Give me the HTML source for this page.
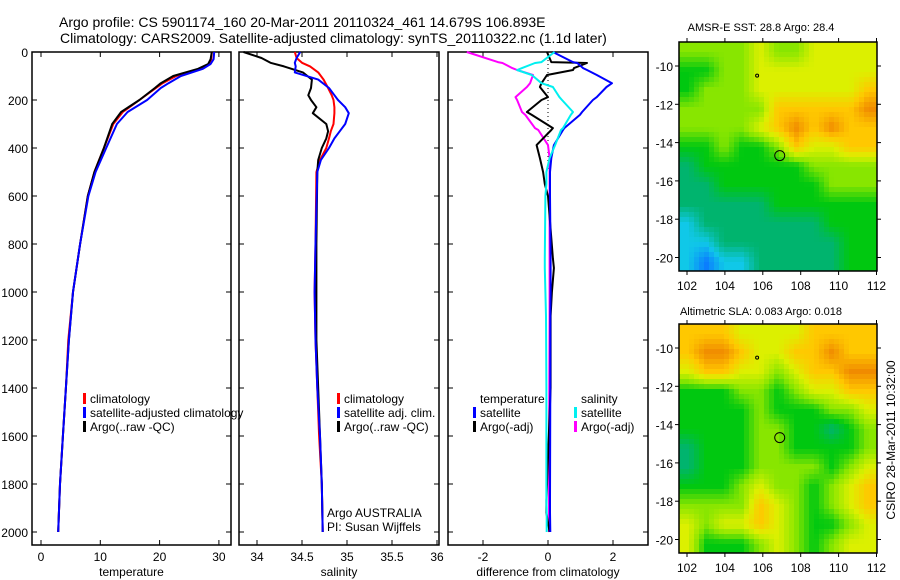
<!DOCTYPE html>
<html><head><meta charset="utf-8"><style>
body{margin:0;background:#fff}
svg{display:block;font-family:"Liberation Sans",sans-serif}
text{fill:#000}
</style></head><body>
<svg id="fig" width="900" height="580" viewBox="0 0 900 580">
<defs>
<clipPath id="c1"><rect x="679" y="42" width="198" height="229"/></clipPath>
<clipPath id="c2"><rect x="679" y="324" width="198" height="229"/></clipPath>
</defs>
<text x="59" y="27" font-size="14">Argo profile: CS 5901174_160 20-Mar-2011 20110324_461 14.679S 106.893E</text>
<text x="60" y="43" font-size="14">Climatology: CARS2009. Satellite-adjusted climatology: synTS_20110322.nc (1.1d later)</text>
<g id="maps"></g>
<g id="panels"></g>
<text x="761" y="31" font-size="11" text-anchor="middle">AMSR-E SST: 28.8 Argo: 28.4</text>
<text x="761" y="315" font-size="11" text-anchor="middle">Altimetric SLA: 0.083 Argo: 0.018</text>
<text transform="translate(895,440) rotate(-90)" font-size="12" text-anchor="middle">CSIRO 28-Mar-2011 10:32:00</text>
</svg>
<script>
const NS='http://www.w3.org/2000/svg';
function mk(tag,attrs,parent){const e=document.createElementNS(NS,tag);for(const k in attrs)e.setAttribute(k,attrs[k]);parent.appendChild(e);return e;}
// ---------- data ----------
const tempDepth=[0,30,50,70,100,130,150,200,250,300,400,500,600,800,1000,1200,1400,1600,1800,2000];
const tempClim=[28.8,28.7,28.4,26.8,22.8,20.5,19.4,16.6,13.8,12.2,10.6,9.0,7.9,6.6,5.4,4.6,4.2,3.7,3.2,2.9];
const tempSat=[29.2,29.1,28.6,27.3,23.6,21.5,20.2,17.9,14.6,12.8,11.0,9.2,8.0,6.6,5.4,4.7,4.2,3.7,3.2,2.9];
const tempArgo=[28.8,28.6,28.2,26.5,22.3,20.2,19.2,16.6,13.5,12.0,10.6,9.0,7.9,6.6,5.4,4.7,4.2,3.7,3.2,2.9];
const salDepth=[0,25,45,60,85,115,150,180,200,230,255,300,330,360,400,450,500,800,1000,1200,1400,1600,1800,2000];
const salClim=[34.42,34.44,34.5,34.59,34.68,34.74,34.79,34.83,34.85,34.86,34.86,34.85,34.82,34.8,34.77,34.7,34.66,34.65,34.64,34.65,34.67,34.69,34.72,34.73];
const salSat=[34.48,34.44,34.42,34.43,34.42,34.68,34.8,34.86,34.9,34.98,35.02,34.98,34.92,34.86,34.8,34.71,34.67,34.65,34.64,34.65,34.67,34.7,34.72,34.73];
const salArgo=[33.85,34.05,34.15,34.3,34.51,34.61,34.6,34.57,34.6,34.66,34.62,34.77,34.79,34.77,34.72,34.68,34.67,34.66,34.66,34.66,34.68,34.7,34.72,34.73];
const diffDepth=[0,42,46,67,75,96,130,146,188,200,250,262,317,325,388,442,500,550,600,860,900,1000,1100,1400,1870,1920,2000];
const dTempSat=[0.15,0.77,0.9,1.08,1.2,1.5,1.97,1.8,1.5,1.38,1.05,0.98,0.5,0.46,0.18,0.1,0.06,0.06,0.06,0.08,0.08,0.08,0.07,0.07,0.06,0.06,0.07];
const dTempArgo=[-0.03,0.1,1.2,0.8,0.77,-0.03,-0.2,-0.25,0.0,-0.2,-0.65,-0.5,0.15,0.1,-0.35,-0.25,-0.15,-0.1,0.0,0.15,0.18,0.12,0.08,0.08,-0.05,-0.05,0.05];
const dSalSat=[0.2,-0.2,-0.4,-0.8,-0.95,-0.5,-0.2,0.15,0.35,0.43,0.77,0.7,0.46,0.4,0.22,0.05,-0.05,-0.05,-0.08,-0.1,-0.1,-0.08,-0.06,-0.05,-0.05,-0.04,-0.04];
const dSalArgo=[-2.5,-1.54,-1.4,-1.1,-0.95,-0.46,-0.55,-0.65,-1.0,-0.95,-0.8,-0.7,-0.4,-0.3,0.0,0.05,0.05,0.05,0.05,0.05,0.05,0.05,0.05,0.04,0.03,0.03,0.03];
const depthTicks=[0,200,400,600,800,1000,1200,1400,1600,1800,2000];
const tempTicks=[0,10,20,30];
const salTicks=[34,34.5,35,35.5,36];
const diffTicks=[-2,0,2];
const lonTicks=[102,104,106,108,110,112];
const latTicks=[-10,-12,-14,-16,-18,-20];
const sstGrid=[
[4,4,4,4,5,4,4,5,5,5,5],[3,3,4,4,5,5,5,5,5,5,5],[3,4,4,4,5,5,5,5,5,5,6],[4,4,4,4,4,6,6,6,6,6,7],
[4,4,4,4,5,6,7,6,7,6,6],[3,3,4,3,3,4,6,5,5,6,6],[2,3,3,3,3,3,3,4,4,4,4],[2,2,3,3,3,3,3,3,4,4,4],
[2,2,2,2,2,3,3,3,3,3,3],[1,2,2,2,2,2,2,2,3,3,3],[1,1,2,2,2,2,2,2,2,3,3],[1,0,1,1,2,2,2,2,2,3,3]];
const slaGrid=[
[6,6,6,5,5,5,5,6,6,6,6],[6,7,7,6,5,5,6,6,7,6,6],[5,6,6,5,5,4,5,6,6,7,7],[3,3,3,4,4,3,4,5,5,6,6],
[3,3,3,3,4,3,3,3,4,4,5],[3,3,3,3,4,4,3,3,2,3,4],[2,3,3,3,4,4,3,3,3,3,4],[2,3,3,3,4,4,4,4,3,4,5],
[3,3,3,4,5,4,4,3,4,5,6],[4,4,4,4,6,5,4,3,4,5,6],[5,4,5,5,6,5,4,3,3,4,5],[5,3,3,3,4,5,4,3,4,5,5]];
const palette=[[10,124,255],[16,200,232],[0,180,110],[0,200,16],[136,230,0],[220,240,0],[255,200,0],[240,138,0]];
const argoLon=106.893, argoLat=-14.679, prevLon=105.7, prevLat=-10.5;

// ---------- profile panels ----------
const yTop=52, kY=0.24; const Y=d=>yTop+d*kY;
const P=document.getElementById('panels');
function panel(name,x0,x1,xs,ticks,label,title,showY){
  const g=mk('g',{},P);
  
  
  mk('rect',{x:x0,y:yTop,width:x1-x0,height:545-yTop,fill:'none',stroke:'#000','stroke-width':1.5},g);
  ticks.forEach(t=>{const x=xs(t);
    mk('line',{x1:x,x2:x,y1:545,y2:540,stroke:'#000'},g);mk('line',{x1:x,x2:x,y1:yTop,y2:yTop+5,stroke:'#000'},g);
    const tx=mk('text',{x:x,y:561,'font-size':12,'text-anchor':'middle'},g);tx.textContent=label(t);
    
    });
  depthTicks.forEach(d=>{const y=Y(d);
    mk('line',{x1:x0,x2:x0+5,y1:y,y2:y,stroke:'#000'},g);mk('line',{x1:x1,x2:x1-5,y1:y,y2:y,stroke:'#000'},g);
    if(showY){const tx=mk('text',{x:28,y:y+5,'font-size':12,'text-anchor':'end'},g);tx.textContent=d;
      
      }});
  const t=mk('text',{x:(x0+x1)/2,y:576,'font-size':12,'text-anchor':'middle'},g);t.textContent=title;
  
  
  return g;
}
function line(g,xs,vals,depths,color,name,w){
  const pts=vals.map((v,i)=>xs(v).toFixed(1)+','+Y(depths[i]).toFixed(1)).join(' ');
  const l=mk('polyline',{points:pts,fill:'none',stroke:color,'stroke-width':w||2,'stroke-linejoin':'round'},g);
  
  
}
function legend(g,x,y,items){
  items.forEach((it,i)=>{const cy=y+i*14;
    if(it[0])mk('rect',{x:x,y:cy-5,width:3,height:11,fill:it[0]},g);
    const t=mk('text',{x:x+7,y:cy+5,'font-size':12},g);t.textContent=it[1];
    
    });
}
const xT=v=>41+v*5.93;
const g1=panel('temperature-panel',32,231,xT,tempTicks,t=>t,'temperature',true);
line(g1,xT,tempClim,tempDepth,'#ff0000','temp-climatology-line');
line(g1,xT,tempArgo,tempDepth,'#000000','temp-argo-line');
line(g1,xT,tempSat,tempDepth,'#0000ff','temp-satellite-line');
legend(g1,83,398,[['#ff0000','climatology'],['#0000ff','satellite-adjusted climatology'],['#000','Argo(..raw -QC)']]);
const xS=v=>257+(v-34)*90;
const g2=panel('salinity-panel',239,439,xS,salTicks,t=>t,'salinity',false);
line(g2,xS,salClim,salDepth,'#ff0000','sal-climatology-line');
line(g2,xS,salArgo,salDepth,'#000000','sal-argo-line');
line(g2,xS,salSat,salDepth,'#0000ff','sal-satellite-line');
legend(g2,337,398,[['#ff0000','climatology'],['#0000ff','satellite adj. clim.'],['#000','Argo(..raw -QC)']]);
const ag=mk('text',{x:327,y:517,'font-size':12},g2);ag.textContent='Argo AUSTRALIA';


const pi=mk('text',{x:327,y:531,'font-size':12},g2);pi.textContent='PI: Susan Wijffels';


const xD=v=>548+v*32.5;
const g3=panel('difference-panel',448,648,xD,diffTicks,t=>t,'difference from climatology',false);
mk('line',{x1:548,x2:548,y1:yTop,y2:Y(500),stroke:'#000','stroke-width':1,'stroke-dasharray':'1,3'},g3);
line(g3,xD,dSalArgo,diffDepth,'#ff00ff','diff-sal-argo-line');
line(g3,xD,dTempArgo,diffDepth,'#000000','diff-temp-argo-line');
line(g3,xD,dTempSat,diffDepth,'#0000ff','diff-temp-satellite-line');
line(g3,xD,dSalSat,diffDepth,'#00f0f0','diff-sal-satellite-line');
legend(g3,473,398,[[null,'temperature'],['#0000ff','satellite'],['#000','Argo(-adj)']]);
legend(g3,574,398,[[null,'salinity'],['#00f0f0','satellite'],['#ff00ff','Argo(-adj)']]);

// ---------- maps ----------
const M=document.getElementById('maps');
function colorAt(v){v=Math.max(0,Math.min(7,v));const i=Math.min(6,Math.floor(v)),f=v-i;
  const a=palette[i],b=palette[i+1];return 'rgb('+a.map((c,k)=>Math.round(c+(b[k]-c)*f)).join(',')+')';}
function sample(grid,r,c){r=Math.max(0,Math.min(11,r));c=Math.max(0,Math.min(10,c));
  const r0=Math.min(10,Math.floor(r)),c0=Math.min(9,Math.floor(c)),fr=r-r0,fc=c-c0;
  return grid[r0][c0]*(1-fr)*(1-fc)+grid[r0][c0+1]*(1-fr)*fc+grid[r0+1][c0]*fr*(1-fc)+grid[r0+1][c0+1]*fr*fc;}
function map(name,grid,top,clip){
  const g=mk('g',{},M);
  
  
  const lonX=l=>687+(l-102)*18.95, latY=la=>top+24+(-10-la)*19.15;
  const cg=mk('g',{'clip-path':'url(#'+clip+')','shape-rendering':'crispEdges'},g);
  const s=5, cw=198/11, ch=229/12;
  for(let y=top;y<top+229;y+=s){for(let x=679;x<877;x+=s){
    const c=(x+s/2-679)/cw-0.5, r=(y+s/2-top)/ch-0.5;
    const cell=mk('rect',{x:x,y:y,width:s,height:s,fill:colorAt(sample(grid,r,c))},cg);
    
    
  }}
  mk('rect',{x:679,y:top,width:198,height:229,fill:'none',stroke:'#000','stroke-width':1.5},g);
  lonTicks.forEach(l=>{const x=lonX(l);
    mk('line',{x1:x,x2:x,y1:top,y2:top-4,stroke:'#000'},g);mk('line',{x1:x,x2:x,y1:top+229,y2:top+233,stroke:'#000'},g);
    const t=mk('text',{x:x,y:top+248,'font-size':12,'text-anchor':'middle'},g);t.textContent=l;
    
    });
  latTicks.forEach(la=>{const y=latY(la);
    mk('line',{x1:877,x2:881,y1:y,y2:y,stroke:'#000'},g);
    mk('line',{x1:679,x2:675,y1:y,y2:y,stroke:'#000'},g);
    const t=mk('text',{x:673,y:y+5,'font-size':12,'text-anchor':'end'},g);t.textContent=la;
    
    });
  const c=mk('circle',{cx:lonX(argoLon),cy:latY(argoLat),r:5,fill:'none',stroke:'#000'},g);
  
  
  const p=mk('circle',{cx:lonX(prevLon),cy:latY(prevLat),r:1.5,fill:'none',stroke:'#000'},g);
  
  
}
map('sst-map',sstGrid,42,'c1');
map('sla-map',slaGrid,324,'c2');
</script>
</body></html>
